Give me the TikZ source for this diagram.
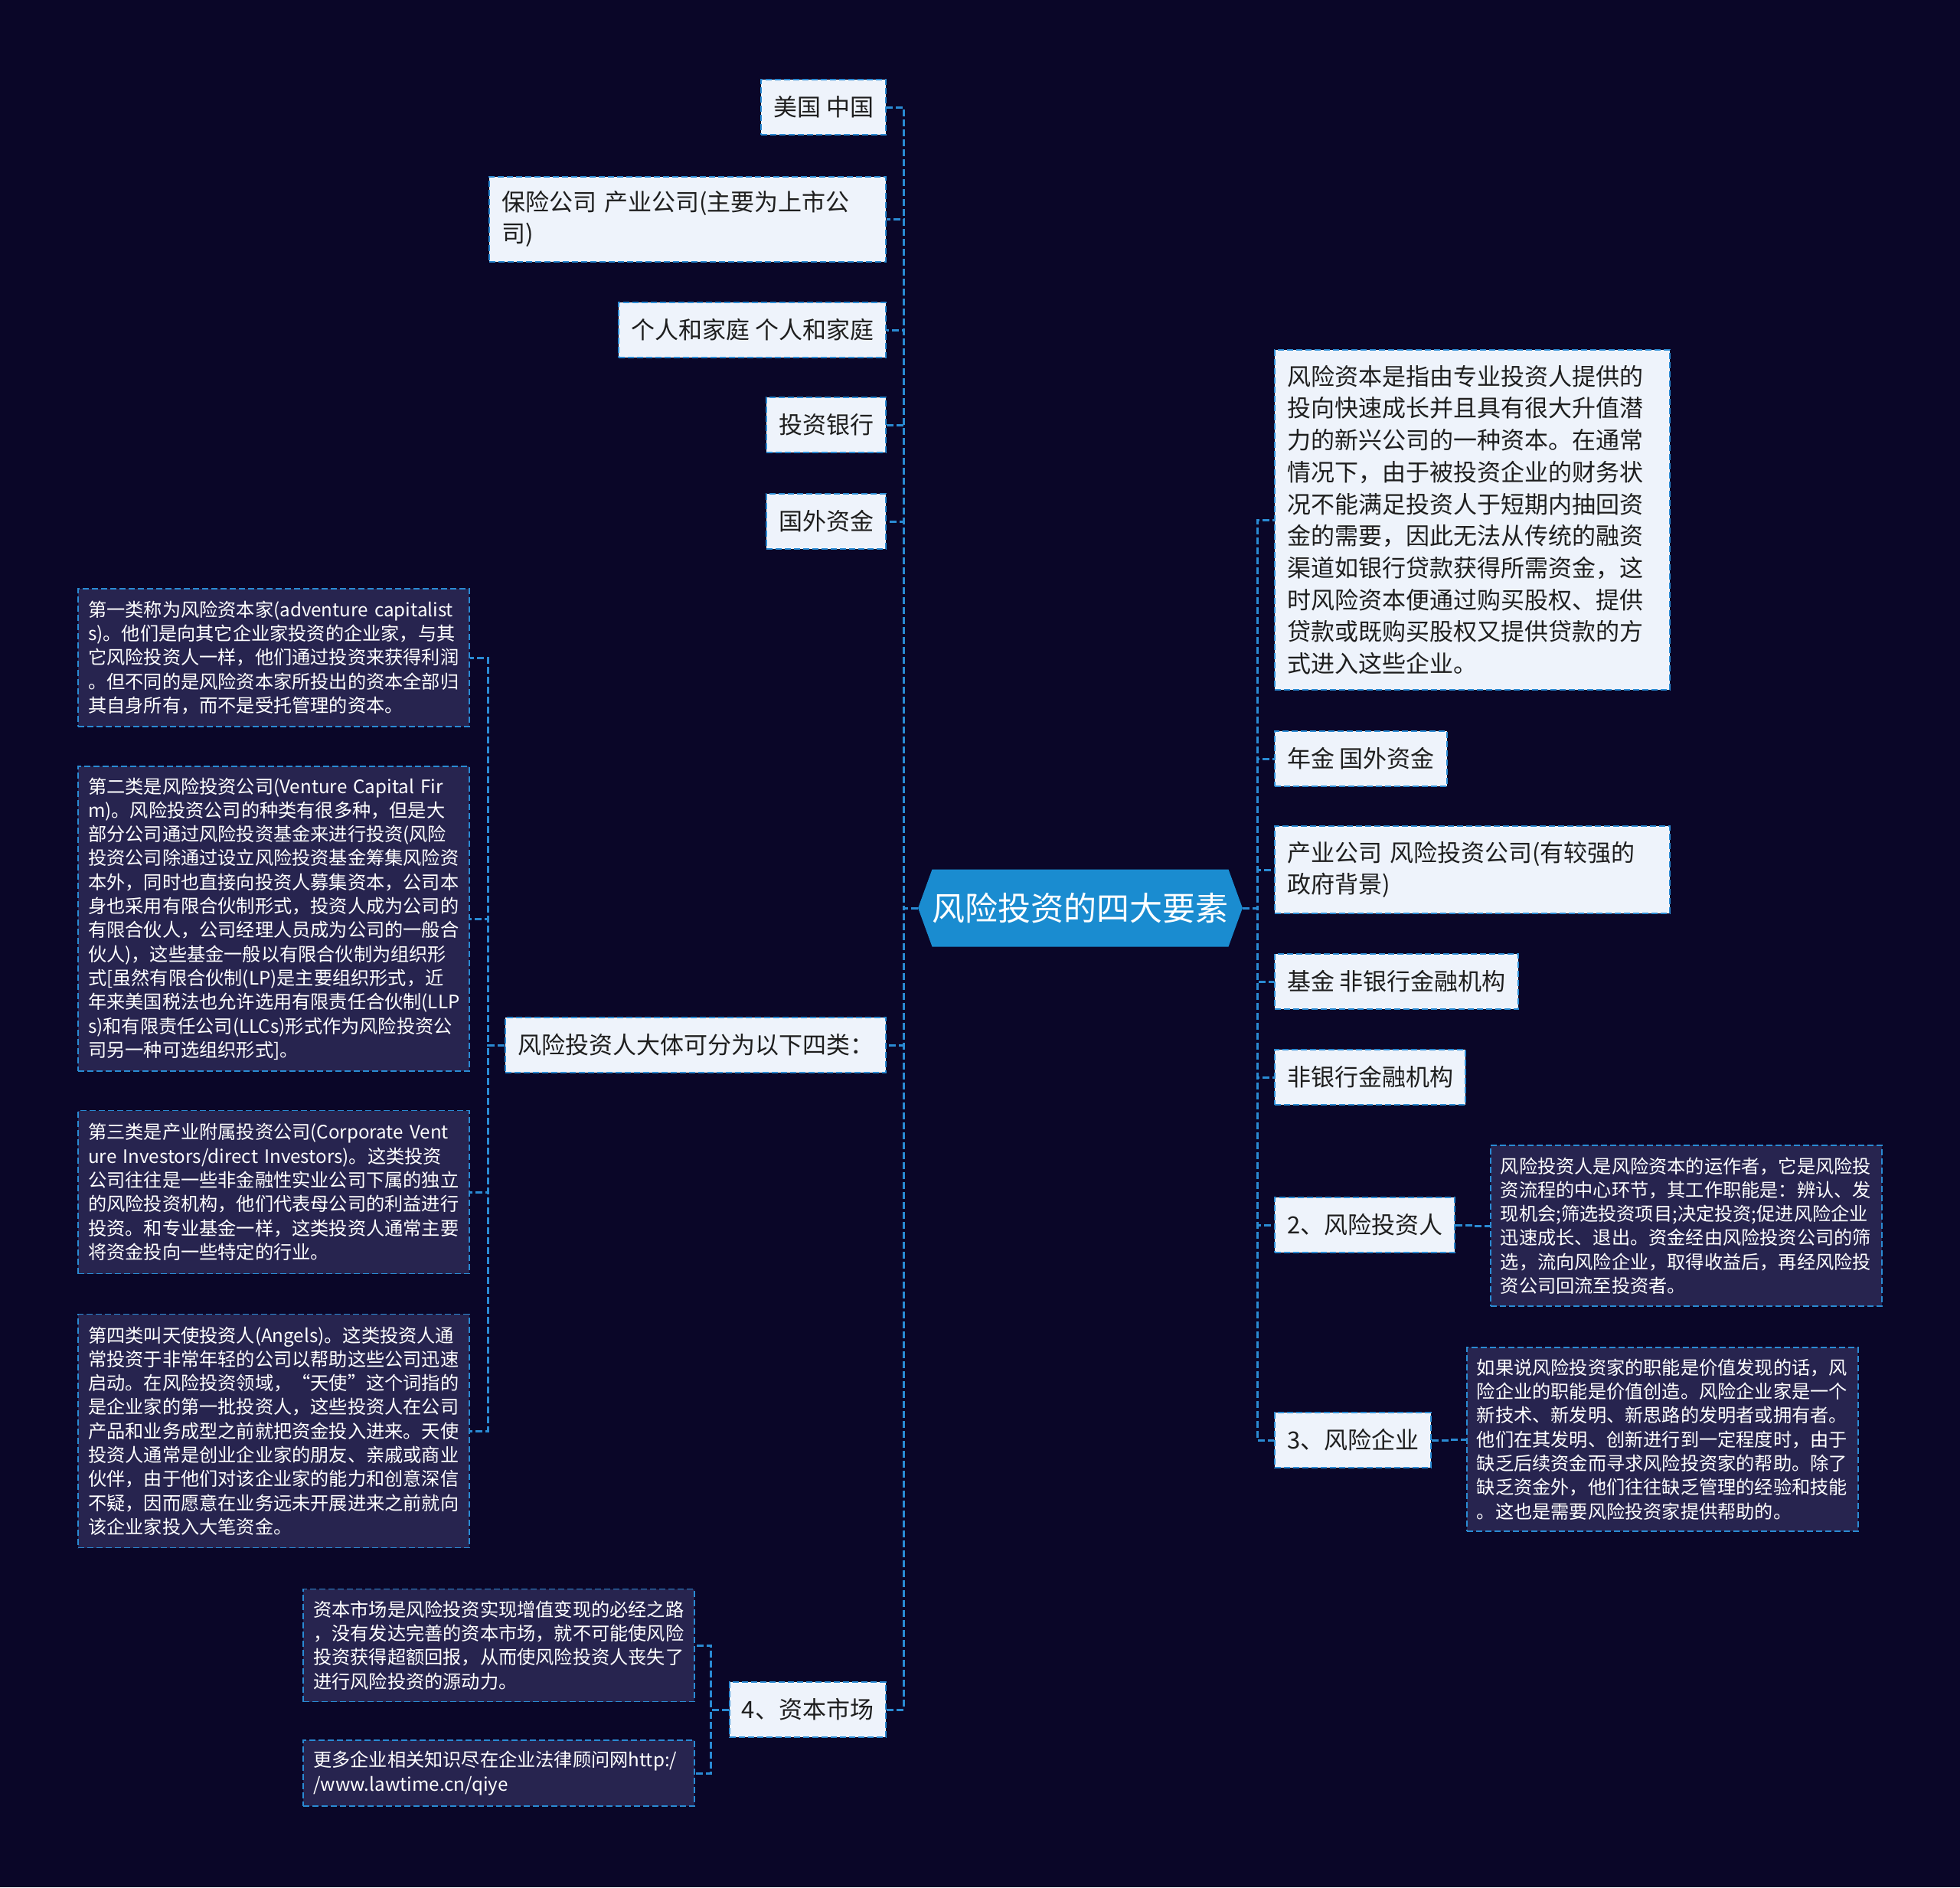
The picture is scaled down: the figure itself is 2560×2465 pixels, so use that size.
\documentclass[tikz,border=0pt]{standalone}
\usepackage{fontspec}
\setmainfont{Noto Sans CJK SC}
\usetikzlibrary{shapes.symbols}
\definecolor{bgnavy}{HTML}{0A0628}
\definecolor{linkblue}{HTML}{2A8BD4}
\definecolor{rootblue}{HTML}{1A8CD0}
\definecolor{paleblue}{HTML}{EEF3FB}
\definecolor{notefill}{HTML}{27244F}
\definecolor{inkdark}{HTML}{1E1E1E}

\begin{document}
\begin{tikzpicture}[x=0.5pt, y=-0.5pt,
    link/.style={draw=linkblue, line width=1.5pt, dash pattern=on 4.5pt off 2pt},
    topic/.style={draw=linkblue, line width=1pt, dash pattern=on 4pt off 2pt, fill=paleblue, text=inkdark,
        font=\fontsize{15.5pt}{20.85pt}\selectfont, inner xsep=8pt, inner ysep=0pt, minimum height=36pt, align=left},
    note/.style={draw=linkblue, line width=0.8pt, dash pattern=on 4pt off 2pt, fill=notefill, text=white,
        font=\fontsize{12.1pt}{15.65pt}\selectfont, inner xsep=6.5pt, inner ysep=0pt, text width=242.5pt, align=left},
    root/.style={signal, signal to=west and east, signal pointer angle=140, fill=rootblue, text=white,
        font=\fontsize{21.5pt}{26pt}\selectfont, minimum width=194pt, minimum height=50.5pt, inner sep=0pt}]
    \fill[bgnavy] (0,0) rectangle (2560,2465);

    \node[root] (root) at (1411,1186) {风险投资的四大要素};

    % left branch
    \node[topic, anchor=east] (usa) at (1158,140) {美国~中国};
    \node[topic, anchor=east, text width=243pt, minimum height=55.5pt] (insur) at (1158,286) {保险公司~产业公司(主要为上市公\\司)};
    \node[topic, anchor=east] (family) at (1158,431) {个人和家庭~个人和家庭};
    \node[topic, anchor=east] (ibank) at (1158,555) {投资银行};
    \node[topic, anchor=east] (foreign) at (1158,681) {国外资金};
    \node[topic, anchor=east] (types) at (1158,1365) {风险投资人大体可分为以下四类：};
    \node[topic, anchor=east] (market) at (1158,2233) {4、资本市场};

    \node[note, anchor=east, minimum height=90pt] (kindA) at (614,859) {第一类称为风险资本家(adventure~capitalist\\s)。他们是向其它企业家投资的企业家，与其\\它风险投资人一样，他们通过投资来获得利润\\。但不同的是风险资本家所投出的资本全部归\\其自身所有，而不是受托管理的资本。};
    \node[note, anchor=east, minimum height=199pt] (kindB) at (614,1200) {第二类是风险投资公司(Venture~Capital~Fir\\m)。风险投资公司的种类有很多种，但是大\\部分公司通过风险投资基金来进行投资(风险\\投资公司除通过设立风险投资基金筹集风险资\\本外，同时也直接向投资人募集资本，公司本\\身也采用有限合伙制形式，投资人成为公司的\\有限合伙人，公司经理人员成为公司的一般合\\伙人)，这些基金一般以有限合伙制为组织形\\式[虽然有限合伙制(LP)是主要组织形式，近\\年来美国税法也允许选用有限责任合伙制(LLP\\s)和有限责任公司(LLCs)形式作为风险投资公\\司另一种可选组织形式]。};
    \node[note, anchor=east, minimum height=106.5pt] (kindC) at (614,1557) {第三类是产业附属投资公司(Corporate~Vent\\ure~Investors/direct~Investors)。这类投资\\公司往往是一些非金融性实业公司下属的独立\\的风险投资机构，他们代表母公司的利益进行\\投资。和专业基金一样，这类投资人通常主要\\将资金投向一些特定的行业。};
    \node[note, anchor=east, minimum height=152.5pt] (kindD) at (614,1869) {第四类叫天使投资人(Angels)。这类投资人通\\常投资于非常年轻的公司以帮助这些公司迅速\\启动。在风险投资领域，“天使”这个词指的\\是企业家的第一批投资人，这些投资人在公司\\产品和业务成型之前就把资金投入进来。天使\\投资人通常是创业企业家的朋友、亲戚或商业\\伙伴，由于他们对该企业家的能力和创意深信\\不疑，因而愿意在业务远未开展进来之前就向\\该企业家投入大笔资金。};

    \node[note, anchor=east, minimum height=73.5pt] (road) at (908,2149) {资本市场是风险投资实现增值变现的必经之路\\，没有发达完善的资本市场，就不可能使风险\\投资获得超额回报，从而使风险投资人丧失了\\进行风险投资的源动力。};
    \node[note, anchor=east, minimum height=43pt] (more) at (908,2316) {更多企业相关知识尽在企业法律顾问网http:/\\/www.lawtime.cn/qiye};

    % right branch
    \node[topic, anchor=west, text width=242pt, minimum height=222pt] (fund) at (1664,679) {风险资本是指由专业投资人提供的\\投向快速成长并且具有很大升值潜\\力的新兴公司的一种资本。在通常\\情况下，由于被投资企业的财务状\\况不能满足投资人于短期内抽回资\\金的需要，因此无法从传统的融资\\渠道如银行贷款获得所需资金，这\\时风险资本便通过购买股权、提供\\贷款或既购买股权又提供贷款的方\\式进入这些企业。};
    \node[topic, anchor=west] (pension) at (1664,991) {年金~国外资金};
    \node[topic, anchor=west, text width=242pt, minimum height=57pt] (gov) at (1664,1136) {产业公司~风险投资公司(有较强的\\政府背景)};
    \node[topic, anchor=west] (bankfund) at (1664,1282) {基金~非银行金融机构};
    \node[topic, anchor=west] (nonbank) at (1664,1407) {非银行金融机构};
    \node[topic, anchor=west] (investor) at (1664,1600) {2、风险投资人};
    \node[topic, anchor=west] (firm) at (1664,1881) {3、风险企业};

    \node[note, anchor=west, minimum height=105pt] (investord) at (1946,1601) {风险投资人是风险资本的运作者，它是风险投\\资流程的中心环节，其工作职能是：辨认、发\\现机会;筛选投资项目;决定投资;促进风险企业\\迅速成长、退出。资金经由风险投资公司的筛\\选，流向风险企业，取得收益后，再经风险投\\资公司回流至投资者。};
    \node[note, anchor=west, minimum height=120pt] (firmd) at (1915,1880) {如果说风险投资家的职能是价值发现的话，风\\险企业的职能是价值创造。风险企业家是一个\\新技术、新发明、新思路的发明者或拥有者。\\他们在其发明、创新进行到一定程度时，由于\\缺乏后续资金而寻求风险投资家的帮助。除了\\缺乏资金外，他们往往缺乏管理的经验和技能\\。这也是需要风险投资家提供帮助的。};

    % connectors
    \coordinate (tl) at (1180,1186); \coordinate (tr) at (1642,1186);
    \foreach \n in {usa,insur,family,ibank,foreign,types,market}
        \draw[link] (root.west) -- (tl) |- (\n.east);
    \foreach \n in {fund,pension,gov,bankfund,nonbank,investor,firm}
        \draw[link] (root.east) -- (tr) |- (\n.west);
    \foreach \n in {kindA,kindB,kindC,kindD}
        \draw[link] (types.west) -- ++(-22,0) |- (\n.east);
    \foreach \n in {road,more}
        \draw[link] (market.west) -- ++(-23,0) |- (\n.east);
    \draw[link] (investor.east) -- ++(23,0) |- (investord.west);
    \draw[link] (firm.east) -- ++(23,0) |- (firmd.west);
\end{tikzpicture}
\end{document}
